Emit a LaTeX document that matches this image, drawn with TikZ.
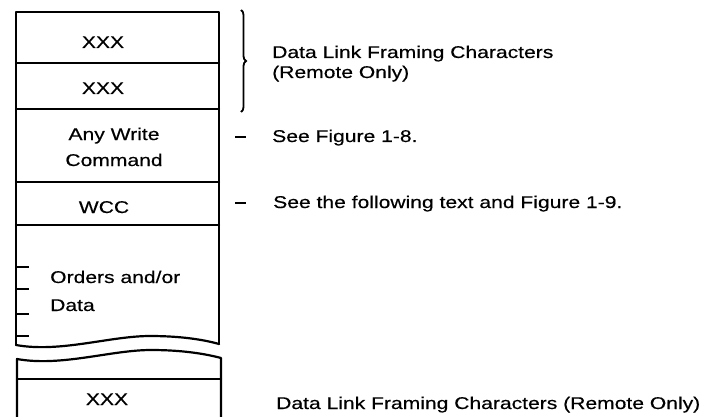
\documentclass[tikz,border=0pt]{standalone}
\usepackage{fontspec}
\setmainfont[FakeStretch=1.24,FakeBold=0.4]{Liberation Sans}
\usetikzlibrary{decorations.pathreplacing}
\begin{document}
\begin{tikzpicture}[x=1pt,y=-1pt,
  frame/.style={line width=2.2pt,line cap=round,line join=round},
  lbl/.style={inner sep=0pt,anchor=base,font=\fontsize{17}{21}\selectfont},
  note/.style={inner sep=0pt,anchor=base west,font=\fontsize{17}{21}\selectfont},
  tick/.style={line width=2.2pt},
  dashmark/.style={line width=2.8pt}]
\useasboundingbox (0,0) rectangle (704,417);
% upper box outline
\draw[frame] (16,345) -- (16,12) -- (219,12) -- (219,344);
\draw[frame] (16,345) .. controls (60,353) and (110,336) .. (150,336)
  .. controls (182,336) and (205,340) .. (219,344);
\foreach \yy in {63,109,182,225}
  \draw[frame] (16,\yy) -- (219,\yy);
% ticks in orders box
\foreach \yy in {267,289,314,336}
  \draw[tick] (16,\yy) -- (29,\yy);
% lower piece
\draw[frame] (17,417) -- (17,359) .. controls (61,367) and (111,350) .. (151,350)
  .. controls (183,350) and (206,354) .. (221,358) -- (221,417);
\draw[frame] (17,379) -- (221,379);
% texts in boxes
\node[lbl] (x1) at (103,48) {XXX};
\node[lbl] (x2) at (103,94) {XXX};
\node[lbl] (aw) at (114,140) {Any Write};
\node[lbl] (cm) at (114,166) {Command};
\node[lbl] (wc) at (104,213) {WCC};
\node[note] (od) at (50,283) {Orders and/or};
\node[note] (dt) at (50,311) {Data};
\node[lbl] (x3) at (107,405) {XXX};
% brace
\coordinate (bt) at (241,10);
\coordinate (bb) at (241,112);
\draw[line width=1.8pt,decorate,decoration={brace,amplitude=5pt}] (bt) -- (bb);
% dashes
\coordinate (d1a) at (235,137); \coordinate (d1b) at (246,137);
\coordinate (d2a) at (235,203); \coordinate (d2b) at (246,203);
\draw[dashmark] (d1a) -- (d1b);
\draw[dashmark] (d2a) -- (d2b);
% notes
\node[note] (n1) at (272,58) {Data Link Framing Characters};
\node[note] (n2) at (272,78) {(Remote Only)};
\node[note] (n3) at (272,142) {See Figure 1-8.};
\node[note] (n4) at (273,208) {See the following text and Figure 1-9.};
\node[note] (n5) at (276,409) {Data Link Framing Characters (Remote Only)};
\end{tikzpicture}
\end{document}
